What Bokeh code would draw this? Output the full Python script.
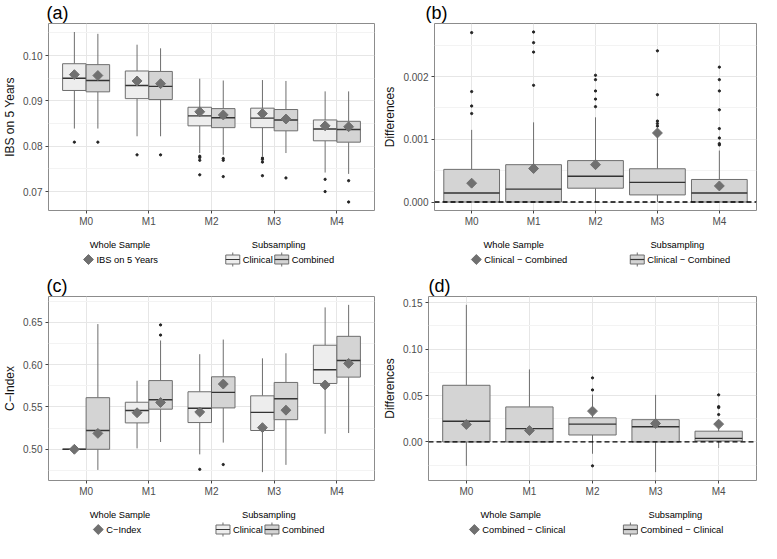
import numpy as np
from bokeh.plotting import figure
from bokeh.models import (ColumnDataSource, FixedTicker, PrintfTickFormatter, Label, Span,
                          Range1d)
from bokeh.layouts import column, row
from bokeh.embed import file_html
from bokeh.resources import INLINE

models = ["M0", "M1", "M2", "M3", "M4"]

# ---------------- Panel (a): IBS on 5 years ----------------
a_clin_wlo = [0.0839, 0.0822, 0.0785, 0.0778, 0.0742]
a_clin_q1 = [0.0923, 0.0905, 0.0845, 0.0841, 0.0812]
a_clin_med = [0.0950, 0.0934, 0.0867, 0.0862, 0.0838]
a_clin_q3 = [0.0982, 0.0966, 0.0886, 0.0884, 0.0858]
a_clin_whi = [0.1052, 0.1024, 0.0949, 0.0946, 0.0921]
a_clin_out = [[0.0809], [0.0781], [0.0778, 0.0775, 0.0769, 0.0737],
              [0.0774, 0.0771, 0.0765, 0.0735], [0.0727, 0.0700]]
a_clin_whole = [0.0958, 0.0944, 0.0876, 0.0872, 0.0845]

a_comb_wlo = [0.0839, 0.0822, 0.0781, 0.0785, 0.0739]
a_comb_q1 = [0.0920, 0.0903, 0.0841, 0.0834, 0.0809]
a_comb_med = [0.0945, 0.0932, 0.0863, 0.0858, 0.0837]
a_comb_q3 = [0.0980, 0.0965, 0.0883, 0.0881, 0.0855]
a_comb_whi = [0.1048, 0.1016, 0.0945, 0.0944, 0.0921]
a_comb_out = [[0.0809], [0.0781], [0.0773, 0.0769, 0.0733], [0.0730], [0.0724, 0.0677]]
a_comb_whole = [0.0956, 0.0938, 0.0869, 0.0860, 0.0843]

# ---------------- Panel (b): IBS differences ----------------
b_wlo = [0.0, 0.0, 0.0, 0.0, 0.0]
b_q1 = [0.0, 0.0, 0.00022, 0.000113, 0.0]
b_med = [0.000144, 0.000205, 0.00041, 0.000313, 0.000144]
b_q3 = [0.00052, 0.000595, 0.00066, 0.00053, 0.000359]
b_whi = [0.00115, 0.00127, 0.00135, 0.00105, 0.00082]
b_out = [[0.00141, 0.00153, 0.00176, 0.0027],
         [0.00186, 0.00239, 0.00254, 0.00271],
         [0.00152, 0.00164, 0.00177, 0.00195, 0.00202],
         [0.00121, 0.00125, 0.00129, 0.00171, 0.00241],
         [0.00091, 0.00093, 0.00102, 0.00117, 0.00147, 0.00177, 0.00195, 0.00215]]
b_whole = [0.00030, 0.000533, 0.000595, 0.00110, 0.000256]

# ---------------- Panel (c): C-Index ----------------
c_clin_wlo = [0.500, 0.5011, 0.494, 0.473, 0.5184]
c_clin_q1 = [0.500, 0.5312, 0.5316, 0.5222, 0.5778]
c_clin_med = [0.500, 0.5459, 0.5485, 0.5436, 0.5940]
c_clin_q3 = [0.500, 0.5556, 0.5680, 0.5632, 0.6230]
c_clin_whi = [0.500, 0.5810, 0.6124, 0.6075, 0.6677]
c_clin_out = [[], [], [0.4763], [], []]
c_clin_whole = [0.500, 0.5432, 0.5440, 0.5256, 0.5760]

c_comb_wlo = [0.4756, 0.5086, 0.5079, 0.4816, 0.5192]
c_comb_q1 = [0.500, 0.5474, 0.5489, 0.5350, 0.5853]
c_comb_med = [0.5222, 0.5586, 0.5673, 0.5598, 0.6049]
c_comb_q3 = [0.5610, 0.5812, 0.5857, 0.5790, 0.6335]
c_comb_whi = [0.6480, 0.6286, 0.6297, 0.6135, 0.6707]
c_comb_out = [[], [0.635, 0.647], [0.482], [], []]
c_comb_whole = [0.5188, 0.5553, 0.5771, 0.5462, 0.6015]

# ---------------- Panel (d): C-Index differences ----------------
d_wlo = [-0.0257, 0.0, -0.0127, -0.0325, -0.0065]
d_q1 = [0.0, 0.0, 0.0075, 0.0, 0.0010]
d_med = [0.0223, 0.0144, 0.0192, 0.0164, 0.0038]
d_q3 = [0.0610, 0.0377, 0.0260, 0.0240, 0.0116]
d_whi = [0.1476, 0.0781, 0.0510, 0.0507, 0.0200]
d_out = [[], [], [0.056, 0.069, -0.0257], [], [0.0295, 0.037, 0.038, 0.0507]]
d_whole = [0.0188, 0.0123, 0.0332, 0.0199, 0.0192]

FONT = "Liberation Sans"
LIGHT = "#EDEDED"
DARK = "#D4D4D4"
BOXLINE = "#6E6E6E"
MEDLINE = "#333333"
DIAM = "#707070"


def extent(*arrs):
    vals = []
    for a in arrs:
        for v in a:
            if isinstance(v, list):
                vals.extend(v)
            else:
                vals.append(v)
    lo, hi = min(vals), max(vals)
    pad = (hi - lo) * 0.05
    return lo - pad, hi + pad


def make_panel(W, H, br, yr, ticks, minor, fmt, ylabel, tag, tag_off):
    p = figure(width=W, height=H, x_range=Range1d(0.4, 5.6), y_range=Range1d(*yr),
               output_backend="svg", toolbar_location=None,
               min_border_left=10, min_border_right=br, min_border_top=0,
               min_border_bottom=0)
    p.title.text = tag
    p.title.text_font = FONT
    p.title.text_font_size = "18px"
    p.title.text_font_style = "normal"
    p.title.text_color = "black"
    p.title.standoff = 1
    p.title.offset = tag_off
    p.xaxis.ticker = FixedTicker(ticks=[1, 2, 3, 4, 5])
    p.xaxis.major_label_overrides = {i + 1: m for i, m in enumerate(models)}
    p.yaxis.ticker = FixedTicker(ticks=ticks, minor_ticks=minor)
    p.yaxis.formatter = PrintfTickFormatter(format=fmt)
    p.xgrid.grid_line_color = "#E6E6E6"
    p.ygrid.grid_line_color = "#E6E6E6"
    p.ygrid.minor_grid_line_color = "#F3F3F3"
    p.axis.axis_line_color = None
    p.axis.major_tick_line_color = "#444444"
    p.axis.major_tick_out = 3
    p.axis.major_tick_in = 0
    p.axis.minor_tick_line_color = None
    p.axis.major_label_text_font = FONT
    p.axis.major_label_text_font_size = "10px"
    p.axis.major_label_text_color = "#4D4D4D"
    p.axis.major_label_standoff = 2
    p.yaxis.axis_label = ylabel
    p.yaxis.axis_label_text_font = FONT
    p.yaxis.axis_label_text_font_size = "12px"
    p.yaxis.axis_label_text_font_style = "normal"
    p.yaxis.axis_label_text_color = "#111111"
    p.yaxis.axis_label_standoff = 3
    p.outline_line_color = "#8C8C8C"
    p.outline_line_width = 1
    p.background_fill_color = "white"
    p.border_fill_color = "white"
    return p


def draw_box(p, offset, width, wlo, q1, med, q3, whi, outs, fill):
    x = [i + 1 + offset for i in range(len(models))]
    half = width / 2.0
    src = ColumnDataSource(dict(x=x, left=[v - half for v in x], right=[v + half for v in x],
                                wlo=wlo, q1=q1, med=med, q3=q3, whi=whi))
    p.segment(x0="x", y0="q3", x1="x", y1="whi", source=src, line_color=BOXLINE, line_width=1)
    p.segment(x0="x", y0="wlo", x1="x", y1="q1", source=src, line_color=BOXLINE, line_width=1)
    p.quad(left="left", right="right", bottom="q1", top="q3", source=src,
           fill_color=fill, line_color=BOXLINE, line_width=1)
    p.segment(x0="left", y0="med", x1="right", y1="med", source=src,
              line_color=MEDLINE, line_width=1.4)
    ox, oy = [], []
    for xi, lst in zip(x, outs):
        for v in lst:
            ox.append(xi)
            oy.append(v)
    p.scatter(x=ox, y=oy, size=2.3, color="#222222", marker="circle")


def draw_whole(p, offset, vals):
    x = [i + 1 + offset for i in range(len(models))]
    p.scatter(x=x, y=vals, marker="square", angle=np.pi / 4, size=7,
              fill_color=DIAM, line_color=DIAM)


def legend_fig(W, H, fig_left, ws_cx, ws_lab_x, ws_label, ss_cx, keys):
    """Legend strip drawn in pixel coordinates; x positions are reference-page pixels."""
    def fx(xref):
        return 8 + xref * 761.0 / 777.0 - fig_left
    lf = figure(width=W, height=H, x_range=Range1d(0, W), y_range=Range1d(0, H),
                x_axis_type=None, y_axis_type=None, output_backend="svg",
                toolbar_location=None, min_border=0)
    lf.outline_line_color = None
    lf.grid.visible = False
    lf.border_fill_color = "white"
    ty = H - 15
    iy = H - 30
    for txt, cx in (("Whole Sample", ws_cx), ("Subsampling", ss_cx)):
        lf.add_layout(Label(x=fx(cx), y=ty, text=txt, text_font=FONT, text_font_size="9.3px",
                            text_align="center", text_baseline="middle", text_color="black"))
    # whole-sample key (diamond) and label
    lf.scatter(x=[fx(ws_lab_x) - 8], y=[iy], marker="square", angle=np.pi / 4, size=7,
               fill_color=DIAM, line_color=DIAM)
    lf.add_layout(Label(x=fx(ws_lab_x), y=iy, text=ws_label, text_font=FONT,
                        text_font_size="9.3px", text_align="left", text_baseline="middle",
                        text_color="black"))
    # subsampling keys (small boxplots) and labels
    for key_left, lab, fill in keys:
        kx = fx(key_left)
        lf.segment(x0=[kx + 7], y0=[iy - 7], x1=[kx + 7], y1=[iy + 7], line_color=BOXLINE,
                   line_width=1)
        lf.quad(left=[kx], right=[kx + 14], bottom=[iy - 4.5], top=[iy + 4.5],
                fill_color=fill, line_color=BOXLINE, line_width=1)
        lf.segment(x0=[kx], y0=[iy], x1=[kx + 14], y1=[iy], line_color=MEDLINE,
                   line_width=1.2)
        lf.add_layout(Label(x=kx + 17, y=iy, text=lab, text_font=FONT, text_font_size="9.3px",
                            text_align="left", text_baseline="middle", text_color="black"))
    return lf


W1, W2 = 380, 381
HP1, HL1, HP2, HL2 = 229, 44, 226, 44

# Panel (a)
pa = make_panel(W1, HP1, 6,
                extent(a_clin_wlo, a_clin_whi, a_clin_out, a_comb_wlo, a_comb_whi, a_comb_out,
                       a_clin_whole, a_comb_whole),
                [0.07, 0.08, 0.09, 0.10], [0.065, 0.075, 0.085, 0.095, 0.105], "%.2f",
                "IBS on 5 Years", "(a)", -2)
draw_box(pa, -0.1875, 0.375, a_clin_wlo, a_clin_q1, a_clin_med, a_clin_q3,
         a_clin_whi, a_clin_out, LIGHT)
draw_box(pa, 0.1875, 0.375, a_comb_wlo, a_comb_q1, a_comb_med, a_comb_q3,
         a_comb_whi, a_comb_out, DARK)
draw_whole(pa, -0.1875, a_clin_whole)
draw_whole(pa, 0.1875, a_comb_whole)
la = legend_fig(W1, HL1, 8, 122, 98, "IBS on 5 Years", 284,
                [(230, "Clinical", LIGHT), (280, "Combined", DARK)])

# Panel (b)
pb = make_panel(W2, HP1, 5, extent(b_wlo, b_whi, b_out, b_whole),
                [0.0, 0.001, 0.002], [0.0005, 0.0015, 0.0025], "%.3f", "Differences",
                "(b)", -9)
draw_box(pb, 0.0, 0.9, b_wlo, b_q1, b_med, b_q3, b_whi, b_out, DARK)
pb.add_layout(Span(location=0, dimension="width", line_color="black", line_width=1.3,
                   line_dash="5 3"))
draw_whole(pb, 0.0, b_whole)
lb = legend_fig(W2, HL1, 388, 524, 494, "Clinical \u2212 Combined", 691,
                [(643, "Clinical \u2212 Combined", DARK)])

# Panel (c)
pc = make_panel(W1, HP2, 6,
                extent(c_clin_wlo, c_clin_whi, c_clin_out, c_comb_wlo, c_comb_whi, c_comb_out,
                       c_clin_whole, c_comb_whole),
                [0.50, 0.55, 0.60, 0.65], [0.475, 0.525, 0.575, 0.625, 0.675], "%.2f",
                "C\u2212Index", "(c)", -2)
draw_box(pc, -0.1875, 0.375, c_clin_wlo, c_clin_q1, c_clin_med, c_clin_q3,
         c_clin_whi, c_clin_out, LIGHT)
draw_box(pc, 0.1875, 0.375, c_comb_wlo, c_comb_q1, c_comb_med, c_comb_q3,
         c_comb_whi, c_comb_out, DARK)
draw_whole(pc, -0.1875, c_clin_whole)
draw_whole(pc, 0.1875, c_comb_whole)
lc = legend_fig(W1, HL2, 8, 122, 108, "C\u2212Index", 274,
                [(220, "Clinical", LIGHT), (270, "Combined", DARK)])

# Panel (d)
pd_ = make_panel(W2, HP2, 5, extent(d_wlo, d_whi, d_out, d_whole),
                 [0.0, 0.05, 0.10, 0.15], [-0.025, 0.025, 0.075, 0.125], "%.2f",
                 "Differences", "(d)", 0)
draw_box(pd_, 0.0, 0.75, d_wlo, d_q1, d_med, d_q3, d_whi, d_out, DARK)
pd_.add_layout(Span(location=0, dimension="width", line_color="black", line_width=1.3,
                    line_dash="5 3"))
draw_whole(pd_, 0.0, d_whole)
ld = legend_fig(W2, HL2, 388, 521, 492, "Combined \u2212 Clinical", 689,
                [(636, "Combined \u2212 Clinical", DARK)])

layout = column(row(pa, pb), row(la, lb), row(pc, pd_), row(lc, ld))

with open("out.html", "w") as f:
    f.write(file_html(layout, INLINE))
